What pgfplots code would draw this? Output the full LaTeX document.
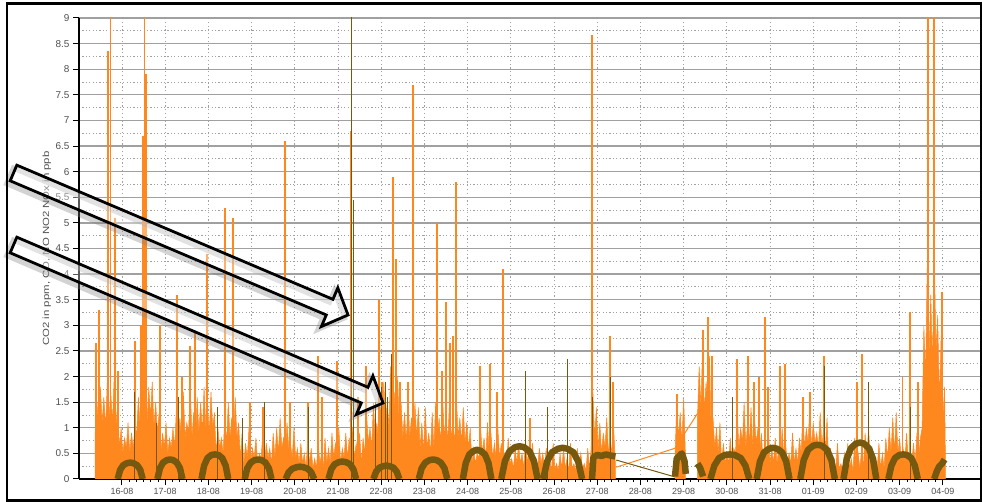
\documentclass[border=0pt]{standalone}
\usepackage{pgfplots}
\pgfplotsset{compat=1.18}
\usepackage{graphicx}
\usepackage{fontspec}
\setmainfont{Liberation Sans}
\definecolor{co}{RGB}{255,136,30}
\definecolor{br}{RGB}{118,88,14}
\definecolor{gridc}{RGB}{160,160,160}
\definecolor{lab}{RGB}{80,80,80}
\begin{document}
\begin{tikzpicture}[x=1bp,y=1bp]
\useasboundingbox (0,0) rectangle (982,502);
\begin{axis}[
  at={(79bp,23bp)}, anchor=south west,
  scale only axis, width=901bp, height=461bp,
  xmin=-0.995, xmax=19.86, ymin=0, ymax=9,
  axis x line*=bottom, axis y line*=left,
  axis line style={-, line width=1.8bp, black},
  xtick={0,1,2,3,4,5,6,7,8,9,10,11,12,13,14,15,16,17,18,19},
  xticklabels={16-08,17-08,18-08,19-08,20-08,21-08,22-08,23-08,24-08,25-08,26-08,27-08,28-08,29-08,30-08,31-08,01-09,02-09,03-09,04-09},
  minor x tick num=5,
  ytick={0,0.5,1,1.5,2,2.5,3,3.5,4,4.5,5,5.5,6,6.5,7,7.5,8,8.5,9},
  minor y tick num=1,
  xmajorgrids, ymajorgrids, yminorgrids,
  major y grid style={gridc, line width=1.3bp},
  minor y grid style={gridc, dash pattern=on 1.2bp off 2.2bp, line width=0.9bp},
  major x grid style={gridc, dash pattern=on 1.2bp off 2.6bp, line width=0.9bp},
  tick align=outside,
  major tick length=6bp, minor tick length=3bp,
  major tick style={black, line width=1bp},
  minor x tick style={black, line width=0.7bp},
  minor y tick style={draw=none},
  /pgf/number format/assume math mode=true,
  yticklabel style={font=\fontsize{10}{12}\selectfont, text=lab},
  xticklabel style={font=\fontsize{9}{11}\selectfont, text=lab},
  ylabel={\scalebox{1.27}[1]{CO2 in ppm, CO, NO NO2 NOx in ppb}},
  every axis y label/.style={at={(axis description cs:-0.0356,0.5)}, rotate=90, anchor=center, font=\fontsize{9}{11}\selectfont, text=lab},
]
% orange: dense signal, part 1 (15-08 to 27-08)
\addplot[draw=co, fill=co, line width=0.5bp] table {
x y
-0.62 0.9
-0.58 1.5
-0.54 1.0
-0.50 1.8
-0.46 1.1
-0.42 1.6
-0.38 1.0
-0.34 1.9
-0.30 1.2
-0.26 1.7
-0.22 1.1
-0.18 2.0
-0.14 1.0
-0.10 1.5
-0.06 0.6
-0.02 1.0
0.02 0.5
0.06 0.8
0.10 0.6
0.14 1.1
0.18 0.5
0.22 0.9
0.26 0.6
0.30 1.0
0.34 0.9
0.38 1.6
0.42 1.0
0.46 2.1
0.50 1.2
0.54 2.3
0.58 1.1
0.62 1.8
0.66 1.2
0.70 1.9
0.74 1.0
0.78 1.5
0.82 0.9
0.86 1.3
0.90 0.5
0.94 0.9
0.98 0.6
1.02 1.1
1.06 0.5
1.10 0.8
1.14 0.6
1.18 1.0
1.22 0.6
1.26 1.4
1.30 0.8
1.34 1.2
1.38 0.7
1.42 1.7
1.46 0.8
1.50 1.1
1.54 0.9
1.58 1.8
1.62 0.8
1.66 1.3
1.70 0.7
1.74 1.6
1.78 0.9
1.82 1.5
1.86 0.9
1.90 1.8
1.94 1.0
1.98 1.4
2.02 0.9
2.06 1.7
2.10 1.0
2.14 1.3
2.18 0.5
2.22 1.0
2.26 0.6
2.30 0.8
2.34 0.5
2.38 1.2
2.42 0.7
2.46 1.5
2.50 0.8
2.54 1.2
2.58 0.7
2.62 1.6
2.66 0.8
2.70 1.1
2.74 0.4
2.78 0.9
2.82 0.3
2.86 0.7
2.90 0.4
2.94 1.0
2.98 0.3
3.02 0.6
3.06 0.4
3.10 0.8
3.14 0.3
3.18 0.5
3.22 0.4
3.26 0.9
3.30 0.3
3.34 0.7
3.38 0.4
3.42 0.6
3.46 0.3
3.50 0.9
3.54 0.4
3.58 1.0
3.62 0.5
3.66 1.2
3.70 0.6
3.74 0.8
3.78 0.4
3.82 1.1
3.86 0.6
3.90 0.7
3.94 0.4
3.98 1.0
4.02 0.4
4.06 0.6
4.10 0.3
4.14 0.7
4.18 0.3
4.22 0.5
4.26 0.2
4.30 0.8
4.34 0.3
4.38 0.6
4.42 0.2
4.46 0.4
4.50 0.2
4.54 0.7
4.58 0.3
4.62 0.5
4.66 0.2
4.70 0.8
4.74 0.3
4.78 0.6
4.82 0.3
4.86 0.9
4.90 0.4
4.94 0.7
4.98 0.4
5.02 1.0
5.06 0.3
5.10 0.6
5.14 0.4
5.18 0.9
5.22 0.4
5.26 0.8
5.30 0.3
5.34 1.0
5.38 0.4
5.42 0.7
5.46 0.4
5.50 0.9
5.54 0.3
5.58 0.8
5.62 0.5
5.66 1.3
5.70 0.7
5.74 1.0
5.78 0.6
5.82 1.5
5.86 0.8
5.90 1.1
5.94 0.7
5.98 1.4
6.02 0.9
6.06 1.9
6.10 1.1
6.14 1.5
6.18 1.0
6.22 2.2
6.26 1.1
6.30 1.7
6.34 1.0
6.38 2.0
6.42 0.9
6.46 1.5
6.50 0.8
6.54 1.3
6.58 0.7
6.62 1.6
6.66 0.8
6.70 1.2
6.74 0.7
6.78 1.5
6.82 0.8
6.86 1.4
6.90 0.6
6.94 1.1
6.98 0.5
7.02 1.4
7.06 0.6
7.10 0.9
7.14 0.5
7.18 1.3
7.22 0.6
7.26 1.5
7.30 0.8
7.34 1.2
7.38 0.7
7.42 1.6
7.46 0.8
7.50 1.3
7.54 0.7
7.58 1.5
7.62 0.8
7.66 1.1
7.70 0.7
7.74 1.6
7.78 0.8
7.82 1.2
7.86 0.7
7.90 1.4
7.94 0.7
7.98 1.1
8.02 0.6
8.06 1.0
8.10 0.3
8.14 0.6
8.18 0.3
8.22 0.5
8.26 0.4
8.30 1.0
8.34 0.5
8.38 0.8
8.42 0.4
8.46 1.1
8.50 0.5
8.54 0.9
8.58 0.4
8.62 0.7
8.66 0.4
8.70 1.0
8.74 0.4
8.78 0.7
8.82 0.3
8.86 0.5
8.90 0.2
8.94 0.8
8.98 0.3
9.02 0.4
9.06 0.2
9.10 0.6
9.14 0.3
9.18 0.7
9.22 0.3
9.26 0.5
9.30 0.2
9.34 0.8
9.38 0.3
9.42 0.6
9.46 0.3
9.50 0.7
9.54 0.3
9.58 0.4
9.62 0.2
9.66 0.6
9.70 0.3
9.74 0.5
9.78 0.2
9.82 0.6
9.86 0.2
9.90 0.4
9.94 0.15
9.98 0.7
10.02 0.2
10.06 0.3
10.10 0.15
10.14 0.5
10.18 0.2
10.22 0.6
10.26 0.2
10.30 0.4
10.34 0.15
10.38 0.7
10.42 0.2
10.46 0.3
10.50 0.15
10.54 0.6
10.58 0.2
10.62 0.5
10.66 0.2
10.70 0.3
10.74 0.15
10.78 0.6
10.82 0.2
10.86 0.6
10.90 1.7
10.94 0.8
10.98 1.4
11.02 0.6
11.06 1.1
11.10 0.5
11.14 0.9
11.18 0.6
11.22 1.2
11.26 0.5
11.30 0.8
11.34 0.5
11.38 1.0
11.42 0.3
} \closedcycle;
% orange: block on 29-08
\addplot[draw=co, fill=co, line width=0.5bp] table {
x y
12.80 0.4
12.84 1.5
12.88 0.8
12.92 1.3
12.96 0.7
13.00 1.6
13.04 0.5
} \closedcycle;
% orange: part 2 (29-08 to 04-09)
\addplot[draw=co, fill=co, line width=0.5bp] table {
x y
13.32 1.2
13.36 2.2
13.40 1.4
13.44 2.6
13.48 1.3
13.52 1.9
13.56 1.4
13.60 2.4
13.64 0.7
13.68 1.2
13.72 0.6
13.76 1.0
13.80 0.5
13.84 1.1
13.88 0.3
13.92 0.7
13.96 0.3
14.00 0.5
14.04 0.3
14.08 0.8
14.12 0.3
14.16 0.6
14.20 0.5
14.24 1.3
14.28 0.6
14.32 1.0
14.36 0.7
14.40 1.5
14.44 0.6
14.48 1.1
14.52 0.7
14.56 1.4
14.60 0.6
14.64 1.2
14.68 0.7
14.72 1.0
14.76 0.5
14.80 0.9
14.84 0.3
14.88 0.7
14.92 0.4
14.96 1.0
15.00 0.3
15.04 0.6
15.08 0.3
15.12 0.8
15.16 0.3
15.20 0.6
15.24 0.3
15.28 1.0
15.32 0.4
15.36 0.7
15.40 0.3
15.44 0.5
15.48 0.3
15.52 0.9
15.56 0.3
15.60 0.6
15.64 0.3
15.68 0.8
15.72 0.5
15.76 1.3
15.80 0.6
15.84 1.0
15.88 0.7
15.92 1.4
15.96 0.6
16.00 1.1
16.04 0.7
16.08 0.9
16.12 0.6
16.16 1.3
16.20 0.6
16.24 1.0
16.28 0.6
16.32 1.2
16.36 0.2
16.40 0.6
16.44 0.2
16.48 0.4
16.52 0.15
16.56 0.7
16.60 0.2
16.64 0.3
16.68 0.15
16.72 0.5
16.76 0.2
16.80 0.7
16.84 0.2
16.88 0.4
16.92 0.15
16.96 0.8
17.00 0.2
17.04 0.5
17.08 0.2
17.12 0.6
17.16 0.2
17.20 0.9
17.24 0.4
17.28 1.0
17.32 0.4
17.36 0.6
17.40 0.2
17.44 0.4
17.48 0.2
17.52 0.7
17.56 0.2
17.60 0.5
17.64 0.2
17.68 0.8
17.72 0.4
17.76 1.0
17.80 0.5
17.84 1.2
17.88 0.5
17.92 1.3
17.96 0.5
18.00 0.8
18.04 0.3
18.08 0.6
18.12 0.3
18.16 0.9
18.20 0.3
18.24 0.5
18.28 0.3
18.32 0.7
18.36 0.3
18.40 0.9
18.44 0.4
18.48 0.8
18.52 1.0
18.56 3.0
18.60 2.0
18.64 4.2
18.68 2.4
18.72 3.6
18.76 2.2
18.80 4.5
18.84 2.5
18.88 3.2
18.92 1.5
18.96 2.8
19.00 1.2
19.04 1.8
19.06 0.3
} \closedcycle;
% orange: connecting line across the data gap
\addplot[co, line width=1bp] coordinates {(11.44,0.23) (12.80,0.60) (13.33,1.29)};
% orange: single peaks
\addplot[ycomb, co, line width=1.5bp, mark=none] coordinates {
(-0.60,2.65) (-0.53,3.3) (-0.32,8.35) (-0.27,9.5) (-0.16,5.1) (-0.09,2.1)
(0.30,2.7) (0.44,3.0) (0.49,6.7) (0.52,9.5) (0.56,7.9) (0.88,3.0)
(1.27,3.6) (1.39,2.0) (1.57,2.6) (1.69,2.9) (1.97,4.4) (2.38,5.3) (2.57,5.1)
(2.96,1.5) (3.26,1.4) (3.77,6.6) (3.89,1.5) (4.31,1.5) (4.54,2.4) (4.63,1.6)
(4.98,2.3) (5.30,6.8) (5.46,1.6) (5.65,2.2) (5.95,3.5) (6.02,1.9) (6.27,5.9)
(6.34,4.3) (6.44,1.9) (6.62,1.9) (6.74,7.7) (7.29,5.0) (7.41,2.1) (7.50,3.45)
(7.59,2.65) (7.66,2.8) (7.73,5.8) (8.29,2.2) (8.52,2.25) (8.68,1.7) (8.82,4.1)
(9.44,1.2) (10.88,8.67) (11.30,2.8) (11.37,1.9)
(12.85,1.65) (13.45,2.9) (13.56,3.17) (13.66,2.4) (14.24,2.35) (14.49,2.4)
(14.63,1.9) (14.75,2.0) (14.88,3.17) (14.95,1.8) (15.23,2.2) (15.35,2.25)
(15.76,1.6) (15.93,1.7) (16.25,2.4) (17.01,1.9) (17.13,2.45) (18.06,2.0)
(18.24,3.26) (18.43,1.9) (18.66,9.5) (18.80,9.5) (18.98,3.65)
};
% brown: daily cycles
\addplot[br, line width=6.5bp, line join=round, line cap=butt, unbounded coords=jump] table {
x y
-0.10 0
-0.042 0.18
0.03 0.27
0.118 0.31
0.19 0.32
0.262 0.31
0.35 0.27
0.422 0.18
0.48 0
0.6 nan
0.82 0
0.878 0.21
0.95 0.32
1.038 0.37
1.11 0.38
1.182 0.37
1.27 0.32
1.342 0.21
1.40 0
1.6 nan
1.84 0
1.90 0.26
1.98 0.41
2.07 0.47
2.15 0.48
2.23 0.47
2.32 0.41
2.40 0.26
2.46 0
2.6 nan
2.84 0
2.90 0.21
2.98 0.32
3.07 0.37
3.15 0.38
3.23 0.37
3.32 0.32
3.40 0.21
3.46 0
3.6 nan
3.79 0
3.856 0.13
3.94 0.20
4.04 0.23
4.12 0.24
4.20 0.23
4.30 0.20
4.38 0.13
4.45 0
4.6 nan
4.78 0
4.844 0.19
4.924 0.29
5.02 0.33
5.10 0.34
5.18 0.33
5.276 0.29
5.356 0.19
5.42 0
5.6 nan
5.82 0
5.88 0.14
5.955 0.22
6.045 0.25
6.12 0.26
6.195 0.25
6.285 0.22
6.36 0.14
6.42 0
6.6 nan
6.87 0
6.936 0.21
7.02 0.32
7.12 0.37
7.20 0.38
7.28 0.37
7.38 0.32
7.464 0.21
7.53 0
7.7 nan
7.89 0
7.956 0.31
8.04 0.48
8.14 0.55
8.22 0.57
8.30 0.55
8.40 0.48
8.484 0.31
8.55 0
8.7 nan
8.78 0
8.864 0.35
8.969 0.54
9.095 0.62
9.20 0.64
9.305 0.62
9.431 0.54
9.536 0.35
9.62 0
9.7 nan
9.75 0
9.84 0.34
9.95 0.52
10.09 0.59
10.20 0.61
10.31 0.59
10.45 0.52
10.56 0.34
10.65 0
10.8 nan
10.88 0
10.91 0.42
11.00 0.47
11.10 0.45
11.20 0.48
11.30 0.46
11.42 0.44
12.0 nan
12.80 0.05
12.84 0.40
12.90 0.45
12.96 0.50
13.02 0.35
13.05 0.10
13.2 nan
13.32 0.30
13.38 0.22
13.45 0.05
13.5 nan
13.62 0
13.71 0.26
13.82 0.41
13.96 0.47
14.07 0.48
14.18 0.47
14.32 0.41
14.43 0.26
14.52 0
14.6 nan
14.69 0
14.766 0.34
14.86 0.52
14.975 0.59
15.07 0.61
15.165 0.59
15.28 0.52
15.374 0.34
15.45 0
15.6 nan
15.70 0
15.78 0.37
15.88 0.57
16.00 0.65
16.10 0.67
16.20 0.65
16.32 0.57
16.42 0.37
16.50 0
16.6 nan
16.70 0
16.776 0.39
16.871 0.60
16.985 0.69
17.08 0.71
17.175 0.69
17.289 0.60
17.384 0.39
17.46 0
17.6 nan
17.74 0
17.808 0.26
17.893 0.41
17.995 0.47
18.08 0.48
18.165 0.47
18.267 0.41
18.352 0.26
18.42 0
18.6 nan
18.80 0
18.86 0.15
18.92 0.25
18.98 0.30
19.04 0.38
};
% brown: connecting line across the data gap
\addplot[br, line width=1bp] coordinates {(11.44,0.37) (12.80,0.04)};
% brown: single peaks
\addplot[ycomb, br, line width=1bp, mark=none] coordinates {
(0.30,1.7) (0.81,1.1) (1.30,1.6) (2.22,1.4) (2.80,1.2) (3.31,1.5) (4.31,1.4)
(5.32,9.5) (5.35,5.45) (5.86,1.5) (6.00,1.8) (6.09,1.9) (6.15,1.6) (6.23,2.45)
(9.33,2.1) (9.84,1.4) (10.32,2.35) (10.90,1.6) (11.30,2.0) (14.14,1.6)
(16.27,2.2) (17.27,1.9) (18.26,1.4)
};
\end{axis}
% annotation arrows
\foreach \sx/\sy/\ang/\len in {13.5/329/-23.0/363.4, 13.5/257/-23.15/401.9}{
  \begin{scope}[shift={(\sx,\sy)}, rotate=\ang]
    \draw[gray, line width=5bp, opacity=0.35, line join=miter, shift={(-2,-4)}]
      (0,8.5) -- (\len-20,8.5) -- (\len-20,21) -- (\len,0) -- (\len-20,-21) -- (\len-20,-8.5) -- (0,-8.5) -- cycle;
    \draw[black, line width=2.8bp, fill=white, fill opacity=0.35, line join=miter]
      (0,8.5) -- (\len-20,8.5) -- (\len-20,21) -- (\len,0) -- (\len-20,-21) -- (\len-20,-8.5) -- (0,-8.5) -- cycle;
  \end{scope}
}
% outer frame
\draw[black, line width=2.5bp] (7,1.5) rectangle (981,498.5);
\end{tikzpicture}
\end{document}
